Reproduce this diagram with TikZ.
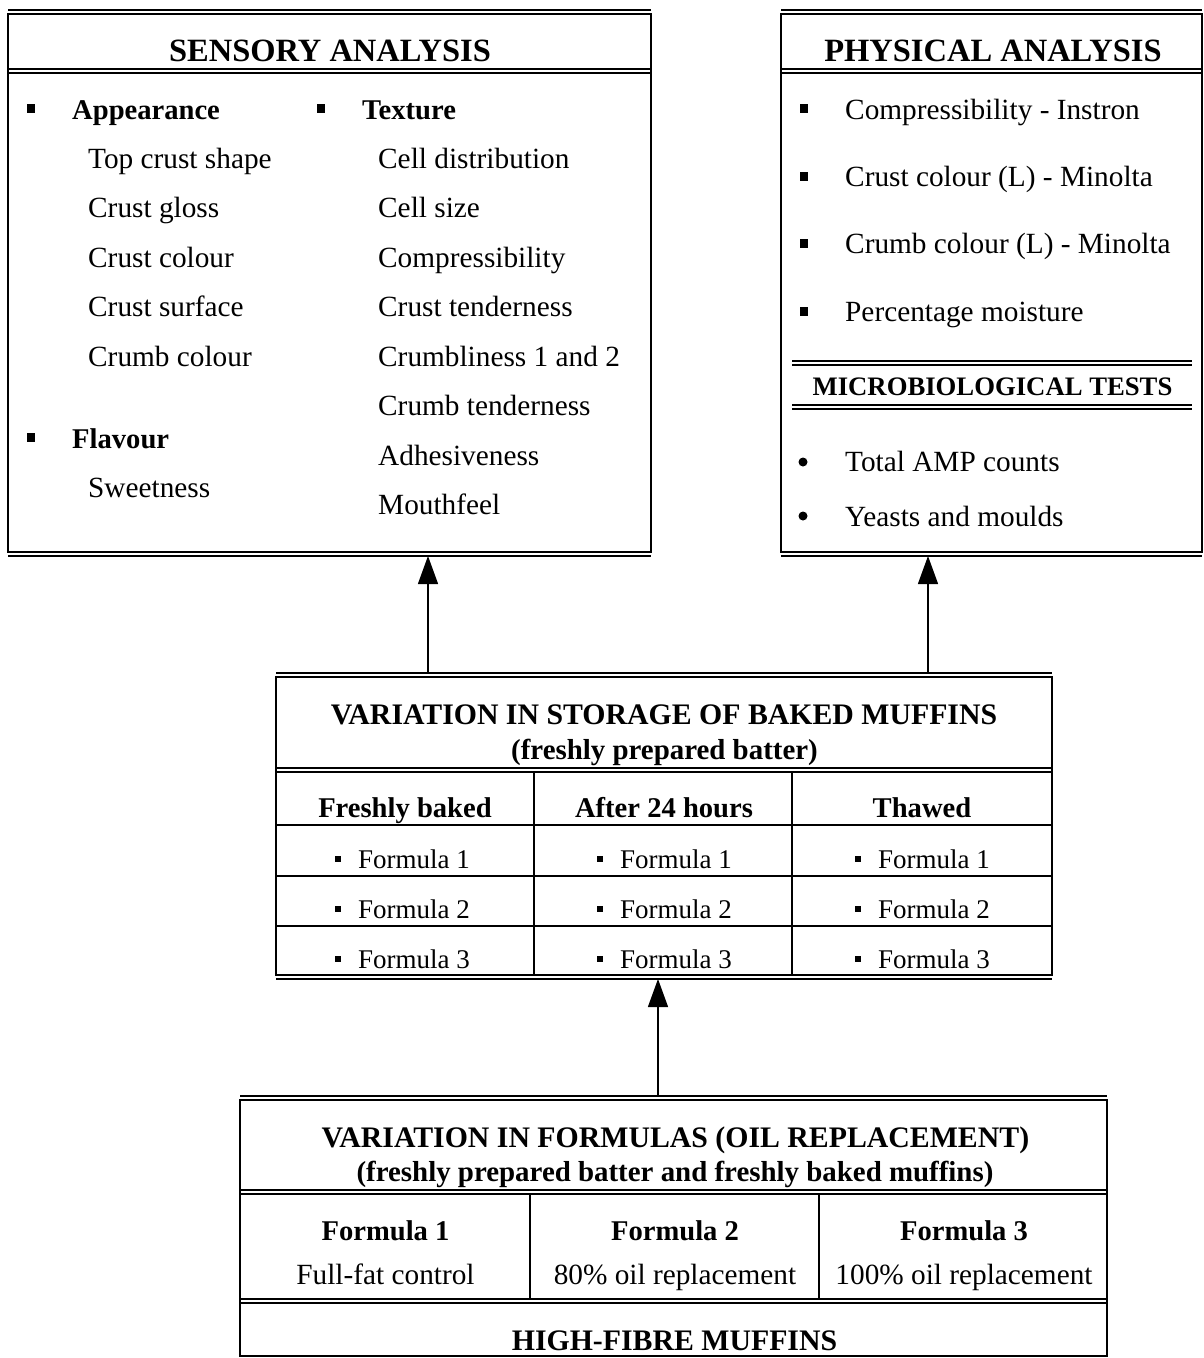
\documentclass[tikz,border=0pt]{standalone}
\usepackage{fontspec}
\setmainfont{Liberation Serif}
\usetikzlibrary{arrows.meta}

\newcommand{\ttlfont}{\fontsize{32.5}{36}\selectfont\bfseries}
\newcommand{\hdfont}{\fontsize{29.8}{34}\selectfont\bfseries}
\newcommand{\hdsubfont}{\fontsize{28.9}{34}\selectfont\bfseries}
\newcommand{\subfont}{\fontsize{28.6}{34}\selectfont\bfseries}
\newcommand{\bodyfont}{\fontsize{29.3}{34}\selectfont}
\newcommand{\cellfont}{\fontsize{27}{32}\selectfont}
\newcommand{\microfont}{\fontsize{26.7}{30}\selectfont\bfseries}

\tikzset{
  panel/.style={draw, line width=1.5pt, inner sep=0pt, outer sep=0pt, anchor=north west},
  rulethick/.style={line width=2pt},
  rulethin/.style={line width=1.1pt},
  divider/.style={line width=1.1pt},
  arr/.style={line width=1.3pt, -{Triangle[length=28pt,width=20pt]}},
  lbl/.style={inner sep=0pt, anchor=base west, font=\bodyfont},
  sublbl/.style={inner sep=0pt, anchor=base west, font=\subfont},
  ctr/.style={inner sep=0pt, anchor=base},
  sqb/.style={fill, inner sep=0pt, minimum width=8pt, minimum height=9pt},
  sqs/.style={fill, inner sep=0pt, minimum size=6pt},
  dotb/.style={circle, fill, inner sep=0pt, minimum size=9pt},
}

\begin{document}
\begin{tikzpicture}[x=1pt, y=-1pt]
\useasboundingbox (0,0) rectangle (1204,1358);

% ---------- boxes ----------
\node[panel, minimum width=643pt, minimum height=538pt] (sensory) at (8,14) {};
\node[panel, minimum width=421pt, minimum height=538pt] (physical) at (781,14) {};
\node[panel, minimum width=776pt, minimum height=298pt] (storage) at (276,677) {};
\node[panel, minimum width=867pt, minimum height=256pt] (formulas) at (240,1100) {};

% outer rules above and below each box
\foreach \b in {sensory, physical, storage, formulas}{
  \draw[rulethick] ([yshift=4pt]\b.north west) -- ([yshift=4pt]\b.north east);
}
\foreach \b in {sensory, physical, storage}{
  \draw[rulethin] ([yshift=-4pt]\b.south west) -- ([yshift=-4pt]\b.south east);
}

% ---------- sensory analysis ----------
\draw[rulethin] (8,69) -- (651,69);
\draw[rulethick] (8,73) -- (651,73);
\node[ctr, font=\ttlfont] (sensT) at (330,61) {SENSORY ANALYSIS};

\node[sqb] (bA) at (31,108) {};
\node[sublbl] (app) at (72,119) {Appearance};
\node[lbl] (a1) at (88,168) {Top crust shape};
\node[lbl] (a2) at (88,217.5) {Crust gloss};
\node[lbl] (a3) at (88,267) {Crust colour};
\node[lbl] (a4) at (88,316.5) {Crust surface};
\node[lbl] (a5) at (88,366) {Crumb colour};

\node[sqb] (bF) at (31,437) {};
\node[sublbl] (flav) at (72,448) {Flavour};
\node[lbl] (f1) at (88,497.5) {Sweetness};

\node[sqb] (bT) at (321,108) {};
\node[sublbl] (tex) at (362,119) {Texture};
\node[lbl] (t1) at (378,168) {Cell distribution};
\node[lbl] (t2) at (378,217.5) {Cell size};
\node[lbl] (t3) at (378,267) {Compressibility};
\node[lbl] (t4) at (378,316.5) {Crust tenderness};
\node[lbl] (t5) at (378,366) {Crumbliness 1 and 2};
\node[lbl] (t6) at (378,415.5) {Crumb tenderness};
\node[lbl] (t7) at (378,465) {Adhesiveness};
\node[lbl] (t8) at (378,514.5) {Mouthfeel};

% ---------- physical analysis ----------
\draw[rulethin] (781,69) -- (1202,69);
\draw[rulethick] (781,73) -- (1202,73);
\node[ctr, font=\ttlfont] (physT) at (993,61) {PHYSICAL ANALYSIS};

\node[sqb] (p1b) at (804,108) {};
\node[lbl] (p1) at (845,119) {Compressibility - Instron};
\node[sqb] (p2b) at (804,176) {};
\node[lbl] (p2) at (845,186.5) {Crust colour (L) - Minolta};
\node[sqb] (p3b) at (804,243) {};
\node[lbl] (p3) at (845,253.5) {Crumb colour (L) - Minolta};
\node[sqb] (p4b) at (804,311) {};
\node[lbl] (p4) at (845,321.5) {Percentage moisture};

\draw[rulethick] (792,361) -- (1192,361);
\draw[rulethin] (792,365) -- (1192,365);
\node[ctr, font=\microfont] (microT) at (992.5,395) {MICROBIOLOGICAL TESTS};
\draw[rulethin] (792,405) -- (1192,405);
\draw[rulethick] (792,409) -- (1192,409);

\node[dotb] (m1b) at (803,462) {};
\node[lbl] (m1) at (845,471) {Total AMP counts};
\node[dotb] (m2b) at (803,516) {};
\node[lbl] (m2) at (845,526) {Yeasts and moulds};

% ---------- storage variation ----------
\draw[rulethin] (276,768) -- (1052,768);
\draw[rulethick] (276,772) -- (1052,772);
\draw[divider] (276,825) -- (1052,825);
\draw[divider] (276,876) -- (1052,876);
\draw[divider] (276,926) -- (1052,926);
\draw[divider] (534,772) -- (534,975);
\draw[divider] (792,772) -- (792,975);

\node[ctr, font=\hdfont] (stT1) at (664,724) {VARIATION IN STORAGE OF BAKED MUFFINS};
\node[ctr, font=\hdsubfont] (stT2) at (664.5,759) {(freshly prepared batter)};

\node[ctr, font=\subfont] (c1) at (405,817) {Freshly baked};
\node[ctr, font=\subfont] (c2) at (664,817) {After 24 hours};
\node[ctr, font=\subfont] (c3) at (922,817) {Thawed};

\foreach \cx/\col in {338/a, 600/b, 858/c}{
  \foreach \yy/\k in {868/1, 918/2, 968/3}{
    \node[sqs] (sb\col\k) at (\cx,\yy-9) {};
    \node[inner sep=0pt, anchor=base west, font=\cellfont] (st\col\k) at (\cx+20,\yy) {Formula \k};
  }
}

% ---------- formula variation ----------
\draw[rulethin] (240,1190) -- (1107,1190);
\draw[rulethick] (240,1194) -- (1107,1194);
\draw[divider] (530,1194) -- (530,1299);
\draw[divider] (819,1194) -- (819,1299);
\draw[rulethick] (240,1299) -- (1107,1299);
\draw[rulethin] (240,1303) -- (1107,1303);

\node[ctr, font=\hdfont] (foT1) at (675.5,1147) {VARIATION IN FORMULAS (OIL REPLACEMENT)};
\node[ctr, font=\hdsubfont] (foT2) at (675,1181) {(freshly prepared batter and freshly baked muffins)};

\node[ctr, font=\subfont] (fo1) at (385.5,1240) {Formula 1};
\node[ctr, font=\bodyfont] (fo1d) at (385.5,1284) {Full-fat control};
\node[ctr, font=\subfont] (fo2) at (675,1240) {Formula 2};
\node[ctr, font=\bodyfont] (fo2d) at (675,1284) {80\% oil replacement};
\node[ctr, font=\subfont] (fo3) at (964,1240) {Formula 3};
\node[ctr, font=\bodyfont] (fo3d) at (964,1284) {100\% oil replacement};

\node[ctr, font=\hdfont] (hf) at (674.5,1350) {HIGH-FIBRE MUFFINS};

% ---------- connectors ----------
\coordinate (xs) at (428,0);
\coordinate (xp) at (928,0);
\coordinate (xf) at (658,0);
\draw[arr] ([yshift=4pt]storage.north -| xs) -- ([yshift=-4pt]sensory.south -| xs);
\draw[arr] ([yshift=4pt]storage.north -| xp) -- ([yshift=-4pt]physical.south -| xp);
\draw[arr] ([yshift=4pt]formulas.north -| xf) -- ([yshift=-4pt]storage.south -| xf);

\end{tikzpicture}
\end{document}
